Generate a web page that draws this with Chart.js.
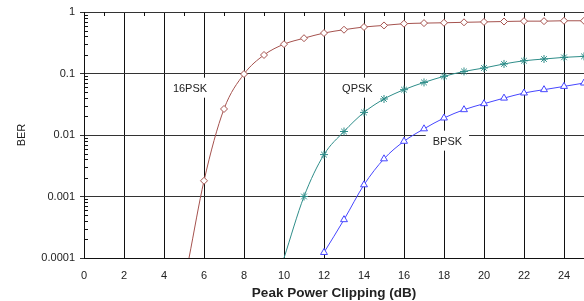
<!DOCTYPE html>
<html>
<head>
<meta charset="utf-8">
<script src="https://cdn.jsdelivr.net/npm/chart.js@4/dist/chart.umd.min.js"></script>
<style>
  html, body { margin: 0; padding: 0; background: #fff; }
  #wrap { width: 584px; height: 301px; }
</style>
</head>
<body>
<div id="wrap"><canvas id="berChart" width="584" height="301"></canvas></div>
<script>
const xTicks = [0, 2, 4, 6, 8, 10, 12, 14, 16, 18, 20, 22, 24];
const yTicks = [0.0001, 0.001, 0.01, 0.1, 1];

const psk16X = [5.25, 6, 7, 8, 9, 10, 11, 12, 13, 14, 15, 16, 17, 18, 19, 20, 21, 22, 23, 24, 25];
const psk16Y = [0.0001, 0.0018, 0.0265, 0.098, 0.2, 0.3, 0.375, 0.455, 0.515, 0.57, 0.605,
  0.645, 0.66, 0.668, 0.68, 0.69, 0.7, 0.71, 0.71, 0.72, 0.72];

const qpskX = [10, 11, 12, 13, 14, 15, 16, 17, 18, 19, 20, 21, 22, 23, 24, 25];
const qpskY = [0.0001, 0.001, 0.0048, 0.0114, 0.0233, 0.0385, 0.0546, 0.0716, 0.09, 0.108,
  0.123, 0.143, 0.161, 0.172, 0.183, 0.19];

const bpskX = [12, 13, 14, 15, 16, 17, 18, 19, 20, 21, 22, 23, 24, 25];
const bpskY = [0.000123, 0.00042, 0.00155, 0.0041, 0.0079, 0.0126, 0.0189, 0.0258, 0.0323,
  0.0398, 0.0482, 0.0546, 0.0617, 0.07];

const FONT = '"Liberation Sans", Arial, sans-serif';

const toPoints = (xs, ys) => xs.map((x, i) => ({ x: x, y: ys[i] }));

// curve names sit on white boxes that cut the grid
const curveLabels = [
  { text: '16PSK', x: 5.3, y: 0.0588 },
  { text: 'QPSK', x: 13.67, y: 0.0588 },
  { text: 'BPSK', x: 18.17, y: 0.0081 },
];

const extras = {
  id: 'extras',
  beforeDatasetsDraw(chart) {
    const { ctx, chartArea: a, scales } = chart;
    const x = scales.x, y = scales.y;
    ctx.save();
    ctx.strokeStyle = '#111';
    ctx.lineWidth = 1;
    ctx.beginPath();
    // minor log ticks on the left axis
    for (let e = -4; e < 0; e++) {
      for (let m = 2; m <= 9; m++) {
        const py = Math.round(y.getPixelForValue(m * Math.pow(10, e))) + 0.5;
        ctx.moveTo(a.left, py);
        ctx.lineTo(a.left + 4, py);
      }
    }
    // odd ticks on the top edge
    for (let v = 1; v < 25; v += 2) {
      const px = Math.round(x.getPixelForValue(v)) + 0.5;
      ctx.moveTo(px, a.top);
      ctx.lineTo(px, a.top + 4);
    }
    ctx.stroke();

    ctx.font = '11px ' + FONT;
    ctx.textAlign = 'center';
    ctx.textBaseline = 'middle';
    curveLabels.forEach((l) => {
      const px = x.getPixelForValue(l.x);
      const py = y.getPixelForValue(l.y);
      const w = ctx.measureText(l.text).width + 14;
      ctx.fillStyle = '#fff';
      ctx.fillRect(px - w / 2, py - 10, w, 20);
      ctx.fillStyle = '#222';
      ctx.fillText(l.text, px, py + 1);
    });
    ctx.restore();
  },
};

new Chart(document.getElementById('berChart'), {
  type: 'line',
  data: {
    datasets: [
      {
        label: '16PSK',
        data: toPoints(psk16X, psk16Y),
        borderColor: '#a5524e',
        backgroundColor: '#fff',
        borderWidth: 1,
        pointStyle: 'rectRot',
        pointRadius: psk16X.map((v, i) => (i === 0 ? 0 : 3.5)),
        pointBorderWidth: 1,
        cubicInterpolationMode: 'monotone',
      },
      {
        label: 'QPSK',
        data: toPoints(qpskX, qpskY),
        borderColor: '#2e8d89',
        backgroundColor: '#fff',
        borderWidth: 1,
        pointStyle: 'star',
        pointRadius: qpskX.map((v, i) => (i === 0 ? 0 : 4)),
        pointBorderWidth: 1,
        cubicInterpolationMode: 'monotone',
      },
      {
        label: 'BPSK',
        data: toPoints(bpskX, bpskY),
        borderColor: '#4646ff',
        backgroundColor: '#fff',
        borderWidth: 1,
        pointStyle: 'triangle',
        pointRadius: 4,
        pointBorderWidth: 1,
        cubicInterpolationMode: 'monotone',
      },
    ],
  },
  options: {
    responsive: false,
    animation: false,
    events: [],
    layout: { autoPadding: false, padding: { top: 12, right: 0, left: 0, bottom: 0 } },
    plugins: {
      legend: { display: false },
      tooltip: { enabled: false },
    },
    scales: {
      x: {
        type: 'linear',
        min: 0,
        max: 25,
        afterBuildTicks: (scale) => {
          scale.ticks = xTicks.map((v) => ({ value: v }));
        },
        afterFit: (scale) => {
          scale.height = 43;
        },
        grid: { color: '#111', drawTicks: false },
        border: { color: '#111' },
        ticks: {
          padding: 11,
          color: '#222',
          font: { family: FONT, size: 11 },
          maxRotation: 0,
        },
        title: {
          display: true,
          text: 'Peak Power Clipping (dB)',
          color: '#222',
          font: { family: FONT, size: 13.5, weight: 'bold' },
          padding: { top: 0, bottom: 0 },
        },
      },
      y: {
        type: 'logarithmic',
        min: 0.0001,
        max: 1,
        afterBuildTicks: (scale) => {
          scale.ticks = yTicks.map((v) => ({ value: v }));
        },
        afterFit: (scale) => {
          scale.width = 84;
        },
        grid: { color: '#333', tickLength: 4 },
        border: { color: '#111' },
        ticks: {
          padding: 5,
          color: '#222',
          font: { family: FONT, size: 11 },
          callback: (v) => String(v),
        },
        title: {
          display: true,
          text: 'BER',
          color: '#222',
          font: { family: FONT, size: 11 },
          padding: { top: 15, bottom: 0 },
        },
      },
    },
  },
  plugins: [extras],
});
</script>
</body>
</html>
